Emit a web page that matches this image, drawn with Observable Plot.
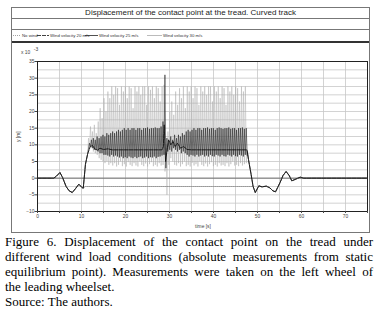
<!DOCTYPE html>
<html><head><meta charset="utf-8">
<script src="https://cdn.jsdelivr.net/npm/d3@7"></script>
<script src="https://cdn.jsdelivr.net/npm/@observablehq/plot@0.6"></script>
<style>
body{margin:0;background:#fff;width:379px;height:317px;overflow:hidden;font-family:"Liberation Sans",Arial,sans-serif;}
#fig{position:absolute;left:11px;top:7px;width:357px;border:1px solid #777;}
.title{height:10px;border-bottom:1px solid #777;font-size:8px;line-height:10px;text-align:center;color:#222;white-space:nowrap;}
.blank{height:10px;border-bottom:1px solid #777;}
.legend{height:11px;border-bottom:2px solid #333;}
.legend svg,#chart svg{display:block;}
#caption{position:absolute;left:5px;top:234px;width:368px;font-family:"Liberation Serif","Times New Roman",serif;font-size:13px;line-height:15px;color:#000;}
.j{text-align:justify;text-align-last:justify;}
</style></head>
<body>
<div id="fig">
  <div class="title">Displacement of the contact point at the tread. Curved track</div>
  <div class="blank"></div>
  <div class="legend" id="legend"></div>
  <div id="chart"></div>
</div>
<div id="caption">
  <div class="j">Figure 6. Displacement of the contact point on the tread under</div>
  <div class="j">different wind load conditions (absolute measurements from static</div>
  <div class="j">equilibrium point). Measurements were taken on the left wheel of</div>
  <div>the leading wheelset.</div>
  <div>Source: The authors.</div>
</div>
<script>
// ---- data ----
const seriesNames = ["No wind", "Wind velocity 20 m/s", "Wind velocity 25 m/s", "Wind velocity 30 m/s"];
const xTicks = [0, 5, 10, 15, 20, 25, 30, 35, 40, 45, 50, 55, 60, 65, 70, 75];
const yTicks = [-10, -5, 0, 5, 10, 15, 20, 25, 30, 35];
const yGrid = [-7.5, -5, -2.5, 0, 2.5, 5, 7.5, 10, 12.5, 15, 17.5, 20, 22.5, 25, 27.5, 30, 32.5];

// curve-entry transient shared by all series
const preT = [0, 3.7, 4.3, 5.1, 5.7, 6.5, 7.2, 7.9, 8.6, 9.4, 10.1, 10.4];
const preV = [0, 0, 0.6, 1.7, 0.2, -2.5, -3.8, -4.3, -3.2, -1.8, -2.8, -3.0];
// rise of wind series
const riseT = [10.9, 11.4];
const riseV = [4.2, 7.3];
// curve-exit transient
const tailT = [47.7, 48.0, 48.5, 49.0, 49.5, 50.3, 51.0, 52.0, 52.8, 53.5, 54.1, 55.1, 55.8, 56.5, 57.2, 57.8, 58.5, 59.0, 59.7, 60.5, 75];
const tailV = [8, 5.2, 1.5, -2.5, -4.3, -2.3, -2.6, -2.4, -2.9, -3.8, -4.1, -1.4, 0.8, 2.0, 0.8, -0.8, -0.4, -0.1, 0.3, 0, 0];

// no wind
const noWindT = [10.9, 48.0];
const noWindV = [-2.5, -2.5];

// wind 20 m/s
const wind20T = [10.9, 11.4, 12.0, 12.5, 13.0, 13.6, 14.2, 15.0, 16.0, 17.0, 28.3, 28.6, 28.8, 29.1, 29.4, 29.8, 30.3, 30.8, 31.3, 31.8, 32.5, 33.2, 34.0, 35.0, 47.6];
const wind20V = [4.2, 7.3, 9.5, 9.8, 8.8, 8.4, 9.0, 8.6, 8.8, 8.5, 8.5, 9.5, 16, 5, 8, 11.5, 10, 11, 9.5, 10.5, 9, 9.5, 8.6, 8.5, 8.5];

// wind 25 m/s oscillation: successive peaks and troughs
const osc25Start = 11.8, osc25Period = 0.44;
const peaks25 = [10.5, 11.5, 12, 11.5, 12.5, 12,
  12.5, 13, 12.5, 13.5, 13, 13.5, 14, 13.5,
  14, 14.5, 14, 14.5, 15, 14.5, 15, 14.5, 15, 15, 14.5, 15, 15, 14.5, 15, 15, 15.2, 14.8, 15, 15, 15.2, 15, 15, 15.5,
  17, 31,
  12, 11, 12.5, 11.5, 13, 12, 13, 12.5, 13.5, 13,
  14, 14.5, 14, 14.5, 15, 14.5, 15, 15, 14.5, 15, 15, 15.2, 14.8, 15, 15, 14.5, 15, 15.2, 15, 14.8, 15, 15, 15.2, 14.8, 15, 15, 14.5, 15, 15, 15.2, 14.8, 15];
const troughs25 = [9.5, 9, 8.5, 8.5, 8, 7.5,
  7.5, 7, 7, 6.8, 6.5, 7, 6.5, 6.8,
  6.5, 6.2, 6.5, 6, 6.3, 6, 6.5, 6.2, 6, 6.4, 6, 6.3, 6.5, 6, 6.2, 6.5, 6, 6.3, 6.2, 6.5, 6, 6.4, 6.5, 6.8,
  7, 3,
  8, 8.5, 8, 9, 8.5, 8, 8.5, 7.5, 8, 7.5,
  7, 6.5, 7, 6.8, 6.5, 7, 6.5, 6.8, 7, 6.5, 6.8, 6.5, 7, 6.6, 6.5, 7, 6.8, 6.5, 7, 6.6, 6.5, 7, 6.8, 6.5, 7, 6.6, 6.5, 7, 6.8, 6.5, 7, 6.8];

// wind 30 m/s oscillation: successive peaks and troughs
const osc30Start = 11.6, osc30Period = 0.44;
const peaks30 = [12, 15.5, 14, 16, 13.5, 17, 21, 18, 24, 20,
  26, 24, 27.5, 25, 27.5, 27, 22, 27.5, 26, 27.5,
  24, 27.5, 27, 21, 27.5, 26, 27.5, 25, 27.5, 27.5,
  22, 27.5, 26.5, 27.5, 24, 27.5, 27, 23, 27.5, 28,
  10, 14, 20, 23, 19, 26, 22, 27, 24, 27.5,
  21, 27.5, 26, 27.5, 24, 27.5, 27, 22, 27.5, 26,
  27.5, 25, 27.5, 27.5, 23, 27.5, 26, 27.5, 24, 27.5,
  27, 22, 27.5, 26, 27.5, 25, 27.5, 27, 23, 27.5,
  26, 27.5];
const troughs30 = [9, 9.5, 8, 7.5, 7, 6, 5.5, 5, 4.5, 5, 4, 4.5,
  3.8, 4.5, 3.5, 4, 5, 3.6, 4.2, 3.5, 4.8, 4, 3.6, 4.5, 3.8, 3.5, 5, 4, 3.6, 4.4, 3.5, 4.2, 4.8, 3.6, 4, 3.5, 4.5, 3.8, 4,
  2, -5,
  4, 6, 5, 4, 3.8, 4.5, 3.5, 4.2, 5, 3.6, 4, 3.5, 4.6, 3.8, 4.2, 3.5, 5, 4, 3.6, 4.4,
  3.5, 4.2, 4.8, 3.6, 4, 3.5, 4.5, 3.8, 4, 3.6, 4.5, 3.5, 4.2, 5, 3.8, 4, 3.6, 4.5, 3.8, 4.2, 4.5];

// ---- build tables ----
const zip = (ts, vs) => ts.map((t, i) => ({t, v: vs[i]}));
function osc(start, period, peaks, troughs) {
  const out = [];
  peaks.forEach((p, k) => {
    out.push({t: start + period * k, v: p});
    out.push({t: start + period * k + period / 2, v: troughs[k]});
  });
  return out;
}
const pre = zip(preT, preV);
const rise = zip(riseT, riseV);
const tail = zip(tailT, tailV);
const dNo = [...pre, ...zip(noWindT, noWindV), ...tail.slice(3)];
const d20 = [...pre, ...zip(wind20T, wind20V), ...tail.slice(1)];
const d25 = [...pre, ...rise, ...osc(osc25Start, osc25Period, peaks25, troughs25), ...tail];
const d30 = [...pre, ...rise, ...osc(osc30Start, osc30Period, peaks30, troughs30), ...tail];

const styles = [
  {stroke: "#8a8a8a", strokeWidth: 0.8, dash: "1,1"},
  {stroke: "#111", strokeWidth: 0.9, dash: "4,1"},
  {stroke: "#252525", strokeWidth: 0.6, dash: null},
  {stroke: "#aaa", strokeWidth: 0.45, dash: null}
];

// ---- legend ----
const lg = d3.select("#legend").append("svg").attr("width", 357).attr("height", 11)
  .style("font-family", "Liberation Sans, Arial, sans-serif").style("font-size", "4.3px");
const legPos = [[1, 9, 10], [25, 37, 38], [73, 86, 87], [135, 150, 151]];
seriesNames.forEach((n, i) => {
  const [x1, x2, tx] = legPos[i];
  lg.append("line").attr("x1", x1).attr("x2", x2).attr("y1", 5.5).attr("y2", 5.5)
    .attr("stroke", styles[i].stroke).attr("stroke-width", 0.8)
    .attr("stroke-dasharray", styles[i].dash);
  lg.append("text").attr("x", tx).attr("y", 7).attr("fill", "#333").text(n);
});

// ---- chart ----
const fs = "4.9px";
const plot = Plot.plot({
  width: 357, height: 189,
  marginLeft: 25, marginRight: 2, marginTop: 18, marginBottom: 21,
  style: {fontFamily: "Liberation Sans, Arial, sans-serif", fontSize: fs, color: "#444", background: "#fff", overflow: "visible"},
  x: {domain: [0, 75]},
  y: {domain: [-10, 35]},
  marks: [
    Plot.gridX(xTicks, {stroke: "#c8c8c8", strokeOpacity: 1, strokeWidth: 0.8}),
    Plot.gridY(yGrid, {stroke: "#c8c8c8", strokeOpacity: 1, strokeWidth: 0.8}),
    Plot.ruleY([0], {stroke: "#666", strokeWidth: 0.9}),
    Plot.line(d30, {x: "t", y: "v", stroke: styles[3].stroke, strokeWidth: styles[3].strokeWidth}),
    Plot.line(d25, {x: "t", y: "v", stroke: styles[2].stroke, strokeWidth: styles[2].strokeWidth}),
    Plot.line(dNo, {x: "t", y: "v", stroke: styles[0].stroke, strokeWidth: styles[0].strokeWidth, strokeDasharray: styles[0].dash}),
    Plot.line(d20, {x: "t", y: "v", stroke: styles[1].stroke, strokeWidth: styles[1].strokeWidth, strokeDasharray: styles[1].dash}),
    Plot.frame({stroke: "#222", strokeWidth: 1}),
    Plot.axisX({ticks: xTicks, tickFormat: d => d % 10 === 0 ? d : "", tickSize: 2, tickPadding: 1, label: null}),
    Plot.axisY({ticks: yTicks, tickSize: 2.5, tickPadding: 0.5, label: null})
  ]
});
document.getElementById("chart").appendChild(plot);
const svg = d3.select(plot);
const lab = (x, y, t, rot) => {
  const e = svg.append("text").attr("x", x).attr("y", y).attr("text-anchor", "middle")
    .attr("fill", "#444").style("font-size", fs).text(t);
  if (rot) e.attr("transform", `rotate(-90 ${x} ${y})`);
  return e;
};
lab(191, 184.5, "time [s]");
lab(7.8, 93.7, "y [m]", true);
svg.append("text").attr("x", 13.7).attr("y", 10.5).attr("fill", "#444").style("font-size", fs).text("x 10");
svg.append("text").attr("x", 24).attr("y", 8).attr("fill", "#444").style("font-size", fs).text("-3");
</script>
</body></html>
